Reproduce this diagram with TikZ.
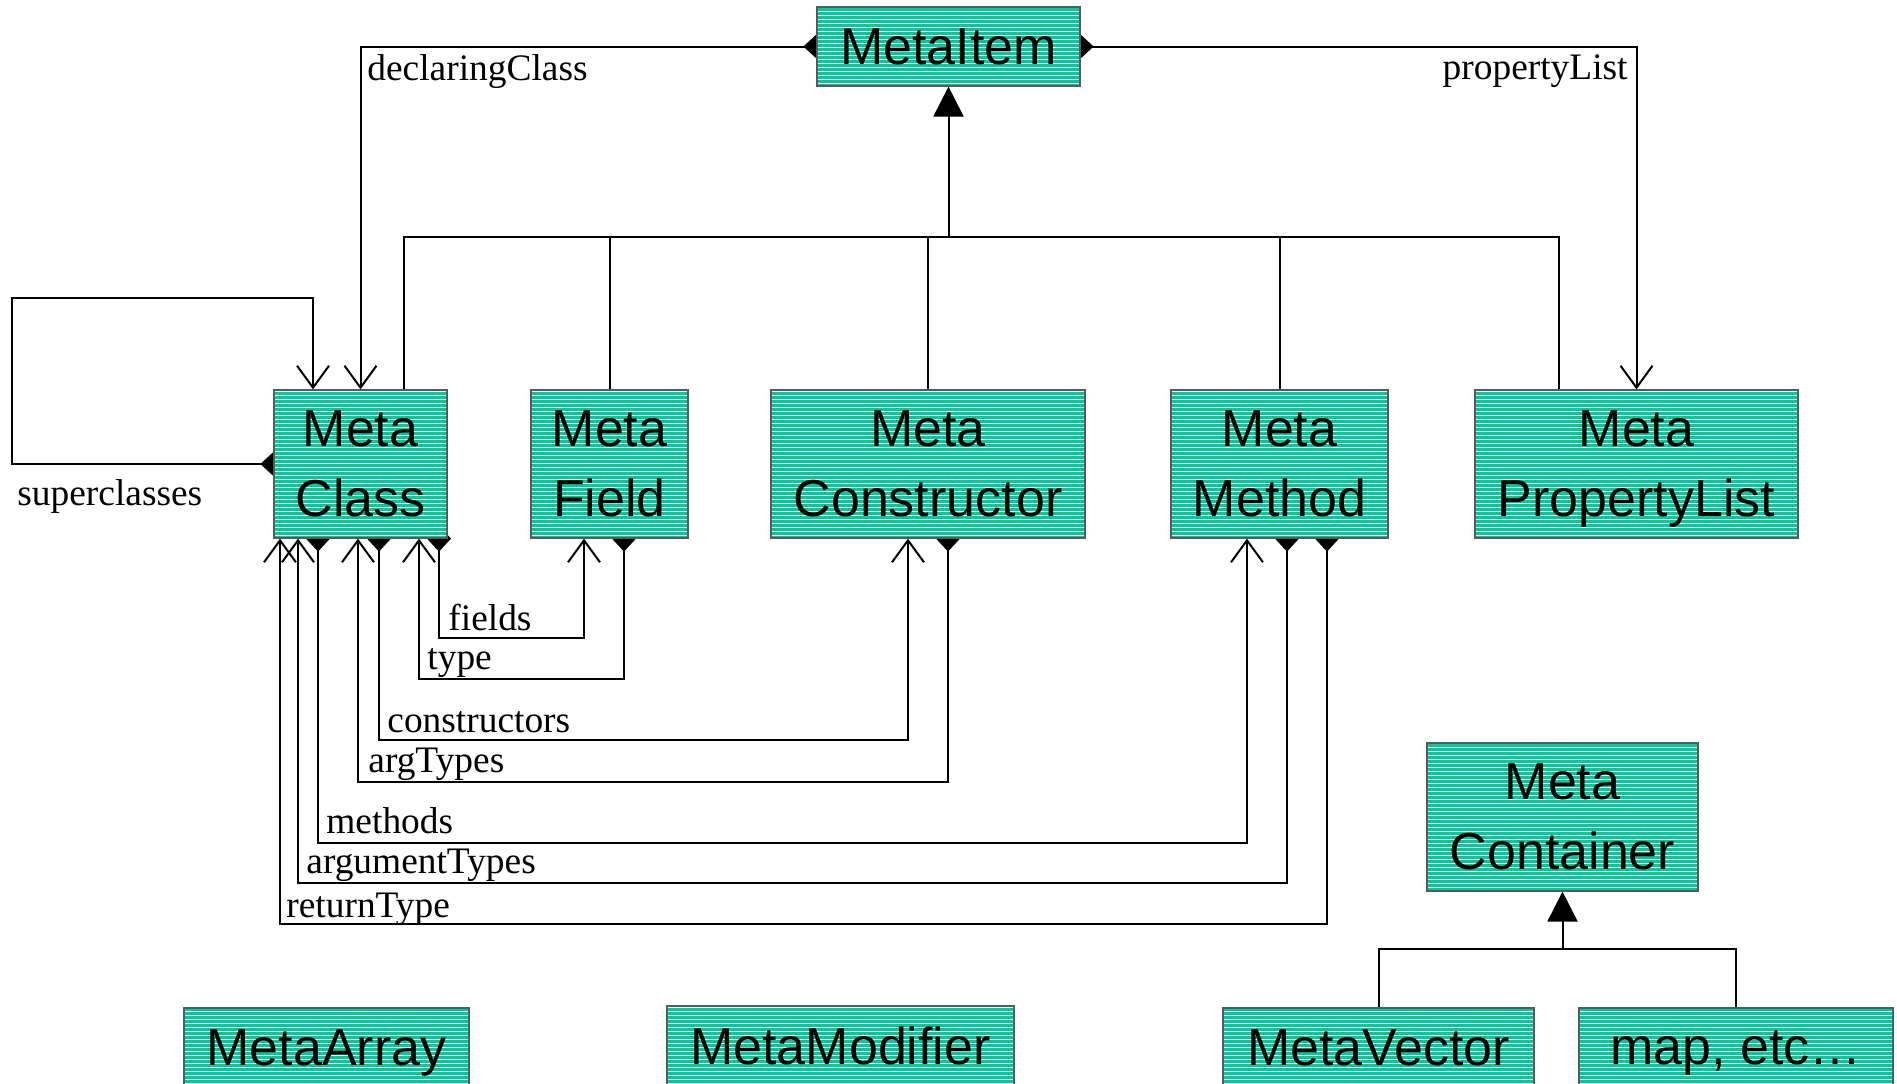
\documentclass[tikz,border=0pt]{standalone}
\usepackage{fontspec}
\setmainfont{Liberation Serif}
\newfontfamily\boxfont{Liberation Sans}
\usetikzlibrary{arrows.meta}
\usetikzlibrary{patterns.meta}
\definecolor{metagreen}{RGB}{0,204,153}
\pgfdeclarelayer{background}
\pgfsetlayers{background,main}
\tikzset{%
    cls/.style={draw=black!65,line width=0.6pt,fill=metagreen,
        postaction={pattern={Lines[angle=0,distance=2pt,line width=0.45pt]},pattern color=white,draw=black!65},
        inner sep=0pt,minimum height=74pt,align=center,text depth=0pt,
        font=\boxfont\fontsize{26}{35}\selectfont},
    lbl/.style={inner sep=0pt,anchor=base west,font=\fontsize{18.7}{22}\selectfont},
    conn/.style={line width=1pt},
    gen/.style={line width=1pt,-{Triangle[length=15pt,width=15pt]}},
    assoc/.style={line width=1pt,arrows={Diamond[length=13pt,width=12pt]-Straight Barb[length=11pt,width=16pt]}}
}
\begin{document}
\begin{tikzpicture}[x=0.5pt,y=-0.5pt]
        \useasboundingbox (0,0) rectangle (1897,1083);
        \clip (0,0) rectangle (1897,1083);

        \node[cls,minimum width=131.5pt,minimum height=39.5pt] (mitem) at (948.5,46.5){MetaItem};

        \node[cls,minimum width=86.5pt] (mclass) at (360.5,464){Meta\\Class};
        \node[cls,minimum width=78.5pt] (mfield) at (609.5,464){Meta\\Field};
        \node[cls,minimum width=157pt] (mctor) at (928,464){Meta\\Constructor};
        \node[cls,minimum width=108.5pt] (mmethod) at (1279.5,464){Meta\\Method};
        \node[cls,minimum width=161.5pt] (mplist) at (1636.5,464){Meta\\PropertyList};

        \node[cls,minimum width=135.5pt] (mcont) at (1562.5,817){Meta\\Container};

        \node[cls,minimum width=142.5pt,minimum height=39.5pt] (marray) at (326.5,1047.5){MetaArray};
        \node[cls,minimum width=173.5pt,minimum height=39.5pt] (mmod) at (840.5,1045.5){MetaModifier};
        \node[cls,minimum width=155.5pt,minimum height=39.5pt] (mvec) at (1378.5,1047.5){MetaVector};
        \node[cls,minimum width=157pt,minimum height=39.5pt] (mmap) at (1736,1047.5){map, etc…};

        \node[lbl] (ldecl) at (367,80){declaringClass};
        \node[lbl,anchor=base east] (lplist) at (1628,79){propertyList};
        \node[lbl] (lsuper) at (17,505){superclasses};
        \node[lbl] (lfields) at (448,630){fields};
        \node[lbl] (ltype) at (427,669){type};
        \node[lbl] (lctors) at (387,732){constructors};
        \node[lbl] (largt) at (368,772){argTypes};
        \node[lbl] (lmeth) at (326,833){methods};
        \node[lbl] (largu) at (306,873){argumentTypes};
        \node[lbl] (lret) at (286,917){returnType};

        \begin{pgfonlayer}{background}
        \coordinate (bus) at (948.5,237);
        \draw[gen] (bus) -- (mitem.south);
        \draw[conn] ([xshift=21.75pt]mclass.north) |- (bus);
        \draw[conn] (mfield.north) |- (bus);
        \draw[conn] (mctor.north) |- (bus);
        \draw[conn] (mmethod.north) |- (bus);
        \draw[conn] ([xshift=-38.75pt]mplist.north) |- (bus);

        \coordinate (cbus) at (1562.5,949);
        \draw[gen] (cbus) -- (mcont.south);
        \draw[conn] (mvec.north) |- (cbus);
        \draw[conn] (mmap.north) |- (cbus);

        \draw[assoc] ([xshift=6.5pt]mitem.west) -| (mclass.north);
        \draw[assoc] ([xshift=-6.5pt]mitem.east) -| (mplist.north);
        \draw[assoc] ([xshift=6.5pt]mclass.west) -| (12,298) -| ([xshift=-23.75pt]mclass.north);

        \draw[assoc] ([xshift=39.25pt,yshift=6.5pt]mclass.south) |- (584,638) -- ([xshift=-12.75pt]mfield.south);
        \draw[assoc] ([xshift=7.25pt,yshift=6.5pt]mfield.south) |- (419,679) -- ([xshift=29.25pt]mclass.south);
        \draw[assoc] ([xshift=9.25pt,yshift=6.5pt]mclass.south) |- (908,740) -- ([xshift=-10pt]mctor.south);
        \draw[assoc] ([xshift=10pt,yshift=6.5pt]mctor.south) |- (358,782) -- ([xshift=-1.25pt]mclass.south);
        \draw[assoc] ([xshift=-21.25pt,yshift=6.5pt]mclass.south) |- (1247,843) -- ([xshift=-16.25pt]mmethod.south);
        \draw[assoc] ([xshift=3.75pt,yshift=6.5pt]mmethod.south) |- (298,883) -- ([xshift=-31.25pt]mclass.south);
        \draw[assoc] ([xshift=23.75pt,yshift=6.5pt]mmethod.south) |- (280,924) -- ([xshift=-40.25pt]mclass.south);
        \end{pgfonlayer}
    \end{tikzpicture}
\end{document}
